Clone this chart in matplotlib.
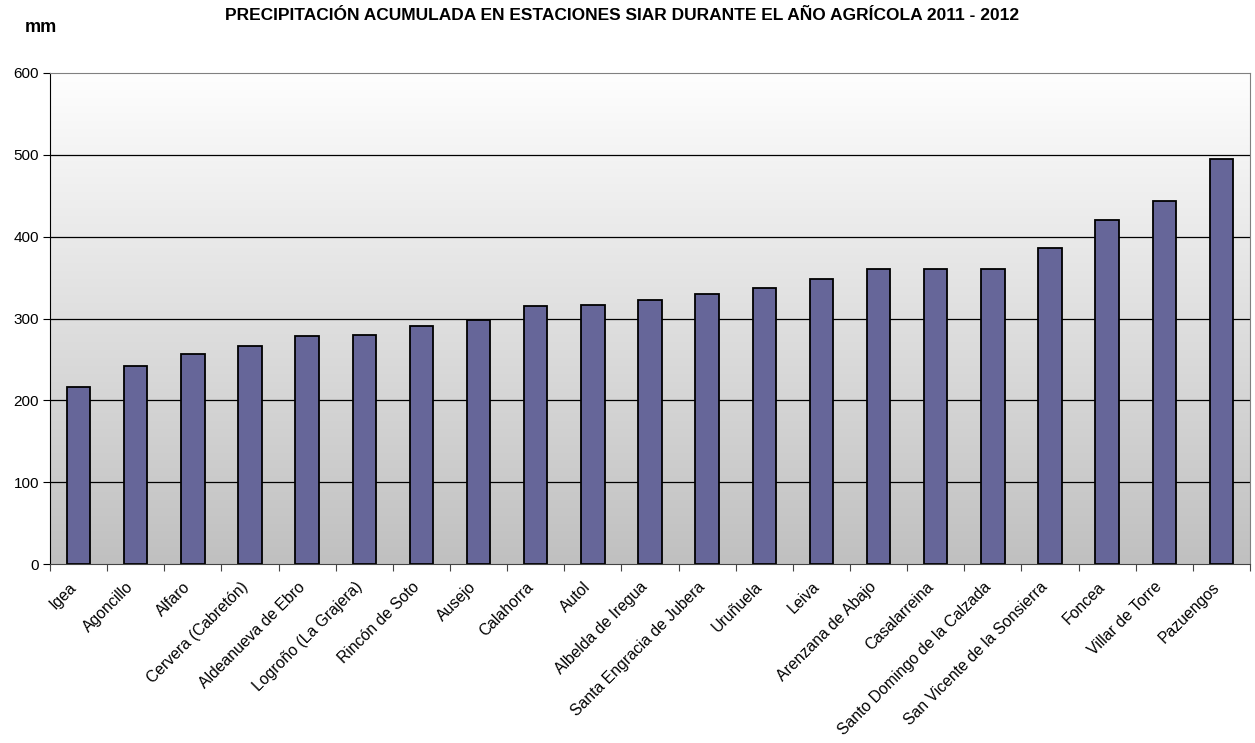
import numpy as np
import matplotlib.pyplot as plt
from matplotlib.colors import LinearSegmentedColormap
from matplotlib.transforms import ScaledTranslation

plt.rcParams['font.family'] = ['Liberation Sans', 'DejaVu Sans']

estaciones = ['Igea', 'Agoncillo', 'Alfaro', 'Cervera (Cabretón)', 'Aldeanueva de Ebro',
              'Logroño (La Grajera)', 'Rincón de Soto', 'Ausejo', 'Calahorra', 'Autol',
              'Albelda de Iregua', 'Santa Engracia de Jubera', 'Uruñuela', 'Leiva',
              'Arenzana de Abajo', 'Casalarreina', 'Santo Domingo de la Calzada',
              'San Vicente de la Sonsierra', 'Foncea', 'Villar de Torre', 'Pazuengos']
precip = [216, 242, 257, 266, 279, 280, 291, 298, 315, 317,
          322, 330, 337, 348, 361, 361, 361, 386, 420, 444, 495]

titulo = 'PRECIPITACIÓN ACUMULADA EN ESTACIONES SIAR DURANTE EL AÑO AGRÍCOLA 2011 - 2012'
yticks = [0, 100, 200, 300, 400, 500, 600]

fig = plt.figure(figsize=(12.55, 7.43), dpi=100)
ax = fig.add_axes([50/1255, 1 - 564/743, 1200/1255, 491/743])

n = len(estaciones)
x = np.arange(n)
ax.set_xlim(-0.5, n - 0.5)
ax.set_ylim(0, 600)

# fondo degradado blanco -> gris
grad = np.linspace(0, 1, 256).reshape(-1, 1)
cmap = LinearSegmentedColormap.from_list('fondo', ['#c0c0c0', '#fefefe'])
ax.imshow(grad, extent=[-0.5, n - 0.5, 0, 600], aspect='auto',
          cmap=cmap, origin='lower', zorder=0)

for v in yticks[1:-1]:
    ax.axhline(v, color='black', lw=0.9, zorder=1)

ax.bar(x, precip, width=0.41, color='#666699', edgecolor='black', lw=1.3, zorder=2)

ax.set_yticks(yticks)
ax.set_yticklabels([str(v) for v in yticks], fontsize=11)
ax.set_xticks(np.arange(n + 1) - 0.5)
ax.set_xticklabels([])
ax.set_xticks(x, minor=True)
ax.set_xticklabels(estaciones, minor=True, rotation=45, ha='right',
                   rotation_mode='anchor', fontsize=11.3)
ax.tick_params(axis='x', which='minor', length=0, pad=11)
ax.tick_params(axis='x', which='major', length=5, color='#444444')
ax.tick_params(axis='y', length=5, pad=3)

# desplazar etiquetas un poco a la izquierda
desp = ScaledTranslation(-10/100, 0, fig.dpi_scale_trans)
for lab in ax.get_xticklabels(minor=True):
    lab.set_transform(lab.get_transform() + desp)

for s in ['top', 'right']:
    ax.spines[s].set_color('#808080')
ax.spines['bottom'].set_color('#444444')
ax.spines['left'].set_color('black')

fig.text(622/1255, 1 - 15/743, titulo, ha='center', va='center', fontsize=12.5, fontweight='bold')
fig.text(41/1255, 1 - 28/743, 'mm', ha='center', va='center', fontsize=13, fontweight='bold')

fig.savefig('out.png', dpi=100)
